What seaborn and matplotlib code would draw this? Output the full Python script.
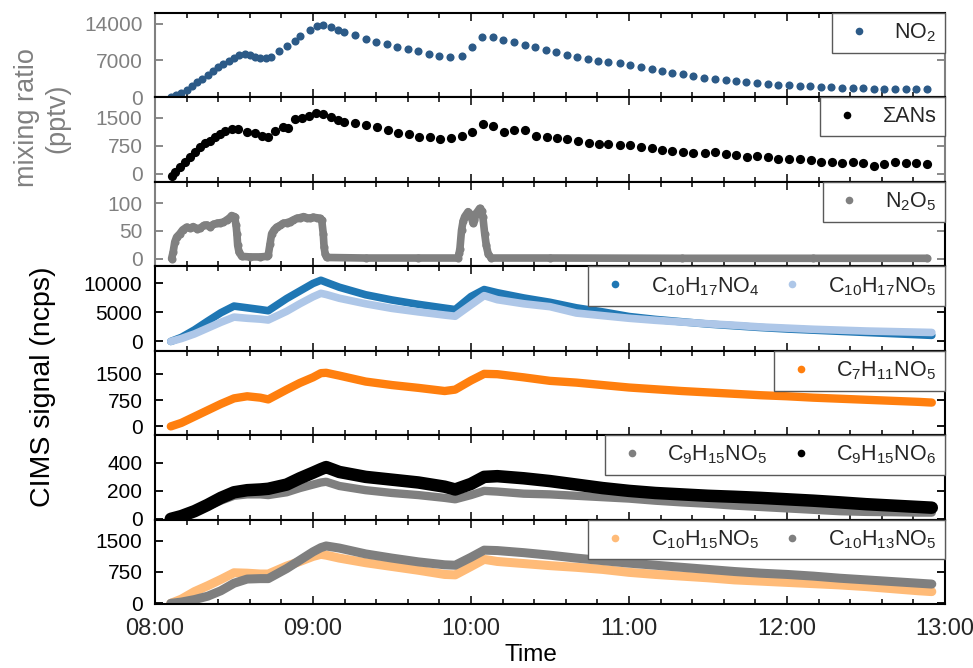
import matplotlib
matplotlib.use("Agg")
import matplotlib.pyplot as plt
import seaborn as sns
import pandas as pd
from matplotlib.lines import Line2D
from matplotlib.ticker import MultipleLocator, FixedLocator, FuncFormatter

# ---------------- data (minutes after 08:00) ----------------
no2_t = [6, 8, 10, 12, 14, 16, 18, 20, 22, 24, 26, 28, 30, 32, 34, 36, 38, 40, 42, 44, 47, 50, 53, 55,
         58.9, 61.4, 63.9, 66.7, 69.6, 71.9, 76, 80, 84, 88, 92, 96, 100, 104, 108, 112, 116.5, 120.3,
         124.3, 128.3, 132.3, 136.3, 140.5, 144.3, 148.5, 152.3, 156.4, 160.4, 164.6, 168.1, 172.2,
         176.6, 180.4, 184.6, 188.6, 192.4, 196.2, 200.4, 204.4, 208.5, 212.6, 216.7, 220.6, 224.6,
         228.6, 232.8, 236.6, 240.8, 244.8, 248.9, 252.8, 256.9, 260.9, 264.9, 268.9, 273, 276.8, 281,
         285.1, 289, 293.1]
no2_v = [100, 450, 850, 1400, 2200, 2850, 3500, 4150, 4950, 5750, 6300, 6800, 7400, 8100, 8300, 8100,
         7700, 7500, 7400, 7700, 8700, 9700, 10700, 11600, 12700, 13500, 13800, 13340, 12840, 12380,
         11740, 11100, 10580, 10130, 9610, 9160, 8700, 8200, 7870, 7540, 7870, 9610, 11410, 11410,
         10900, 10440, 9940, 9480, 8970, 8510, 8060, 7670, 7230, 6900, 6710, 6450, 6070, 5740, 5300,
         4970, 4640, 4330, 4000, 3680, 3480, 3230, 3040, 2840, 2710, 2590, 2400, 2260, 2200, 2070,
         1930, 1880, 1740, 1740, 1680, 1620, 1620, 1550, 1550, 1550, 1550]

ans_t = [6.3, 7.6, 9.5, 11.4, 13.3, 15.2, 17.1, 19, 20.9, 22.8, 24.7, 26.6, 29.1, 31.6, 34.8, 37.9,
         40.5, 43, 45.6, 48.7, 50.6, 53.2, 55.7, 58.3, 61.2, 63.9, 66.7, 69.6, 71.9, 76, 80, 84.2,
         88.3, 92.2, 96.3, 100.1, 104.3, 108.4, 112.5, 116.6, 120.4, 124.5, 128.4, 132.5, 136.5,
         140.7, 144.5, 148.7, 152.5, 156.6, 160.6, 164.8, 168.6, 172.2, 176.6, 180.4, 184.6, 188.6,
         192.4, 196.2, 200.6, 204.4, 208.9, 212.7, 216.9, 220.7, 224.7, 228.7, 232.9, 236.7, 240.9,
         245, 249, 252.9, 257, 261, 265, 269, 273, 276.9, 281, 285.1, 289, 293.1]
ans_v = [-50, 60, 190, 320, 450, 580, 710, 820, 890, 975, 1060, 1150, 1190, 1190, 1130, 1100, 1020,
         975, 1150, 1250, 1230, 1455, 1500, 1540, 1630, 1590, 1515, 1440, 1395, 1370, 1300, 1240,
         1185, 1105, 1060, 975, 990, 940, 950, 1000, 1120, 1325, 1280, 1125, 1165, 1165, 1020, 990,
         950, 920, 890, 820, 800, 800, 760, 760, 730, 690, 645, 600, 585, 560, 560, 585, 540, 515,
         450, 470, 450, 410, 410, 410, 385, 320, 330, 295, 320, 295, 210, 260, 320, 280, 280, 260]

n2o5_t = [6.3, 6.9, 7.5, 8.2, 9.4, 10.5, 12, 13.3, 14.5, 16, 17.1, 18.5, 19.6, 21, 22.2, 23.5, 24.7,
          26, 27.2, 28.2, 29.1, 30.2, 30.8, 31.1, 31.4, 31.9, 32.9, 36, 40, 42.5, 43, 43.7, 44.3,
          45.2, 46.2, 47.5, 48.7, 50, 51.3, 52.5, 53.8, 55, 56.4, 57.7, 58.9, 60, 61.4, 62.5, 63.3,
          63.9, 64.2, 64.6, 65.2, 80, 100, 115, 115.5, 115.8, 116.4, 117, 117.6, 118.9, 119.8, 120.8,
          121.3, 122, 123.3, 124, 124.5, 125.2, 125.8, 126.5, 127.7, 150, 200, 250, 293]
n2o5_v = [0, 12, 30, 39, 45, 52, 57, 55, 58, 54, 55, 60, 61, 58, 62, 64, 65, 66, 70, 73, 78, 76, 60,
          45, 24, 12, 4, 3, 3, 4, 6, 27, 45, 52, 57, 60, 64, 65, 67, 70, 73, 74, 76, 74, 73, 75, 74,
          73, 70, 45, 21, 9, 2, 1, 1, 1, 10, 18, 51, 68, 76, 85, 80, 64, 70, 82, 91, 86, 76, 45, 24,
          9, 1, 1, 0.5, 0.5, 0.5]

cims_t = [6, 10, 15, 20, 25, 30, 35, 40, 43, 50, 55, 60, 63, 65, 70, 80, 90, 100, 110, 114, 120, 125,
          130, 140, 150, 160, 170, 180, 190, 200, 210, 220, 230, 240, 250, 260, 270, 280, 290, 295]
c10h17no4 = [0, 700, 2000, 3500, 4950, 6100, 5800, 5500, 5300, 7400, 8700, 10000, 10550, 10200,
             9350, 8050, 7150, 6400, 5750, 5500, 7750, 8950, 8400, 7500, 6750, 5800, 5100, 4300,
             3800, 3400, 3000, 2700, 2400, 2150, 1950, 1750, 1550, 1350, 1150, 1050]
c10h17no5 = [0, 500, 1300, 2300, 3300, 4200, 4000, 3850, 3700, 5200, 6500, 7700, 8300, 8100, 7450,
             6500, 5700, 5100, 4550, 4350, 6300, 7900, 7200, 6500, 6000, 4900, 4450, 4000, 3650,
             3350, 3050, 2800, 2500, 2300, 2100, 1950, 1800, 1700, 1600, 1550]
c7h11no5 = [0, 100, 280, 460, 640, 800, 860, 820, 770, 1050, 1240, 1400, 1520, 1530, 1450, 1280,
            1180, 1100, 1010, 1050, 1310, 1500, 1490, 1400, 1300, 1250, 1180, 1110, 1060, 1010, 970,
            930, 890, 860, 820, 790, 760, 730, 700, 680]
c9h15no5 = [0, 15, 50, 90, 130, 165, 175, 175, 170, 190, 220, 245, 260, 265, 235, 205, 185, 170,
            150, 140, 170, 200, 195, 180, 175, 165, 155, 145, 130, 118, 108, 95, 85, 75, 65, 55, 50,
            48, 45, 45]
c9h15no6 = [0, 20, 55, 100, 150, 190, 205, 210, 215, 245, 290, 330, 355, 370, 335, 300, 280, 260,
            230, 210, 250, 300, 305, 290, 270, 245, 220, 200, 185, 175, 165, 158, 150, 140, 130, 118,
            105, 95, 85, 80]
c10h15no5 = [0, 100, 280, 420, 570, 730, 720, 700, 700, 890, 1000, 1120, 1170, 1150, 1080, 970, 880,
             790, 690, 680, 880, 1050, 1000, 950, 900, 860, 810, 740, 690, 650, 610, 560, 530, 500,
             470, 440, 400, 350, 300, 280]
c10h13no5 = [0, 30, 90, 170, 300, 480, 580, 590, 590, 830, 1030, 1230, 1330, 1370, 1320, 1180, 1080,
             990, 920, 910, 1100, 1270, 1260, 1210, 1150, 1080, 1020, 960, 910, 860, 810, 760, 720,
             690, 650, 600, 560, 520, 480, 460]

hour_labels = ["08:00", "09:00", "10:00", "11:00", "12:00", "13:00"]

# ---------------- style ----------------
sns.set_theme(style="white")
plt.rcParams["font.family"] = ["Liberation Sans", "DejaVu Sans"]
plt.rcParams["mathtext.fontset"] = "custom"
plt.rcParams["mathtext.rm"] = "Liberation Sans"
plt.rcParams["mathtext.it"] = "Liberation Sans:italic"
plt.rcParams["mathtext.default"] = "regular"

GREY = "#808080"
fig, axes = plt.subplots(7, 1, figsize=(9.73, 6.68), dpi=100, sharex=True)
fig.subplots_adjust(left=0.1593, right=0.9712, top=0.9805, bottom=0.0958, hspace=0)

ylims = [(-60, 16000), (-210, 2040), (-14, 139), (-1600, 12960), (-250, 2160), (-5, 598), (-16, 2000)]
yticks = [[0, 7000, 14000], [0, 750, 1500], [0, 50, 100], [0, 5000, 10000], [0, 750, 1500],
          [0, 200, 400], [0, 750, 1500]]


def dot(c):
    return Line2D([], [], ls="", marker="o", markersize=5.5, color=c, markeredgewidth=0)


def band(ax, t, v, c, lw):
    df = pd.DataFrame({"t": t, "v": v})
    sns.lineplot(data=df, x="t", y="v", ax=ax, color=c, linewidth=lw, sort=False,
                 estimator=None, solid_capstyle="round", solid_joinstyle="round")


# panel 1 NO2
ax = axes[0]
sns.scatterplot(x=no2_t, y=no2_v, ax=ax, color="#2c5a87", s=34, linewidth=0)
leg1 = [(dot("#2c5a87"), "NO$_2$")]
# panel 2 ANs
ax = axes[1]
sns.scatterplot(x=ans_t, y=ans_v, ax=ax, color="black", s=44, linewidth=0)
leg2 = [(dot("black"), "ΣANs")]
# panel 3 N2O5
ax = axes[2]
band(ax, n2o5_t, n2o5_v, GREY, 5.5)
sns.scatterplot(x=n2o5_t, y=n2o5_v, ax=ax, color=GREY, s=34, linewidth=0)
leg3 = [(dot(GREY), "N$_2$O$_5$")]
# panel 4
ax = axes[3]
band(ax, cims_t, c10h17no4, "#1f77b4", 5.5)
band(ax, cims_t, c10h17no5, "#aec7e8", 5.5)
leg4 = [(dot("#1f77b4"), "C$_{10}$H$_{17}$NO$_4$"), (dot("#aec7e8"), "C$_{10}$H$_{17}$NO$_5$")]
# panel 5
ax = axes[4]
band(ax, cims_t, c7h11no5, "#ff7f0e", 6)
leg5 = [(dot("#ff7f0e"), "C$_7$H$_{11}$NO$_5$")]
# panel 6
ax = axes[5]
band(ax, cims_t, c9h15no5, "#7f7f7f", 6)
band(ax, cims_t, c9h15no6, "black", 9)
leg6 = [(dot("#7f7f7f"), "C$_9$H$_{15}$NO$_5$"), (dot("black"), "C$_9$H$_{15}$NO$_6$")]
# panel 7
ax = axes[6]
band(ax, cims_t, c10h15no5, "#ffbb78", 6.5)
band(ax, cims_t, c10h13no5, "#7f7f7f", 6.5)
leg7 = [(dot("#ffbb78"), "C$_{10}$H$_{15}$NO$_5$"), (dot("#7f7f7f"), "C$_{10}$H$_{13}$NO$_5$")]

legs = [leg1, leg2, leg3, leg4, leg5, leg6, leg7]

for i, ax in enumerate(axes):
    top3 = i < 3
    tc = GREY if top3 else "black"
    ax.set_xlim(0, 300)
    ax.set_ylim(*ylims[i])
    ax.yaxis.set_major_locator(FixedLocator(yticks[i]))
    ax.xaxis.set_major_locator(MultipleLocator(60))
    ax.xaxis.set_minor_locator(MultipleLocator(12))
    ax.set_ylabel("")
    ax.set_xlabel("")
    for s in ax.spines.values():
        s.set_linewidth(1.5)
        s.set_color("black")
    if top3:
        ax.spines["left"].set_color(GREY)
        if i < 2:
            ax.spines["right"].set_color(GREY)
    ax.tick_params(axis="both", which="both", direction="in", top=True, right=True,
                   bottom=True, left=True, width=1.3)
    ax.tick_params(axis="both", which="major", length=6)
    ax.tick_params(axis="both", which="minor", length=3.5)
    ax.tick_params(axis="y", labelsize=15, labelcolor=tc, pad=9, colors=tc)
    ax.tick_params(axis="y", which="both", right=True)
    ax.tick_params(axis="x", labelsize=17, pad=10)
    h, l = zip(*legs[i])
    lg = ax.legend(h, l, loc="upper right", bbox_to_anchor=(1.0, 1.0), ncol=len(h),
                   frameon=True, fancybox=False, framealpha=1, edgecolor="0.35",
                   borderaxespad=0, fontsize=15.5, handlelength=1.7, handletextpad=0.8,
                   columnspacing=0.7, borderpad=0.4)
    lg.get_frame().set_linewidth(1.0)

axes[-1].xaxis.set_major_formatter(
    FuncFormatter(lambda v, p: hour_labels[int(round(v / 60))] if 0 <= round(v / 60) < len(hour_labels) else ""))

fig.text(42 / 973, 1 - 118 / 668, "mixing ratio\n(pptv)", rotation=90, ha="center", va="center",
         multialignment="center", fontsize=19.5, color=GREY, linespacing=1.2)
fig.text(43 / 973, 1 - 387 / 668, "CIMS signal (ncps)", rotation=90, ha="center", va="center",
         fontsize=20.5, color="black")
fig.text(531 / 973, 1 - 655 / 668, "Time", ha="center", va="center", fontsize=17.5, color="black")

fig.savefig("out.png", dpi=100)
